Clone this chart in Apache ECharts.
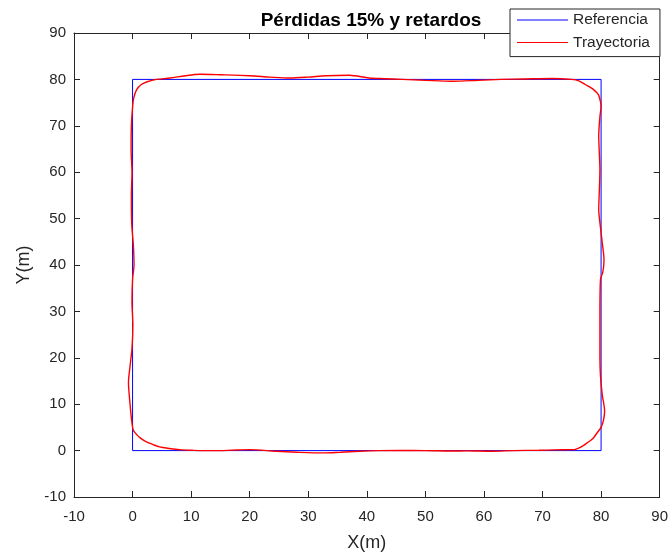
<!DOCTYPE html>
<html>
<head>
<meta charset="utf-8">
<script src="https://cdn.jsdelivr.net/npm/echarts@6/dist/echarts.min.js"></script>
<style>html,body{margin:0;padding:0;background:#fff;}#c{width:671px;height:559px;}</style>
</head>
<body>
<div id="c"></div>
<script>
// Axis ticks
var xTicks = [-10, 0, 10, 20, 30, 40, 50, 60, 70, 80, 90];
var yTicks = [-10, 0, 10, 20, 30, 40, 50, 60, 70, 80, 90];

// Reference square
var refX = [0, 80, 80, 0, 0];
var refY = [0, 0, 80, 80, 0];

// Trajectory
var trajX = [75.5, 72.0, 69.4, 65.0, 61.4, 57.0, 54.6, 50.0, 45.5, 42.0, 38.7, 35.5, 32.5, 28.0, 24.5, 20.0, 17.0, 14.9, 12.0, 10.3, 8.0, 6.35, 4.6, 3.5, 2.2, 1.24, 0.6, 0.1,
  -0.2, -0.5, -0.7, -0.45, -0.1, 0.05, -0.1, 0.0, 0.25, 0.15, -0.15, -0.2, -0.1, -0.25, -0.2, 0.0, 0.2, 0.7, 1.5, 2.5, 4.1,
  6.4, 9.0, 11.5, 15.0, 20.0, 23.5, 26.8, 30.0, 33.0, 37.0, 40.4, 43.0, 46.0, 50.0, 54.6, 59.0, 63.0, 67.0, 71.6, 75.0, 76.2, 77.3, 78.5, 79.3, 79.6, 80.0,
  79.8, 79.6, 79.7, 79.8, 79.7, 79.6, 79.9, 80.2, 80.5, 80.3, 79.9, 79.8, 79.8, 79.8, 79.9, 80.2, 80.6, 80.4, 80.0, 79.3, 78.6, 77.6, 76.6, 75.5];
var trajY = [0.2, 0.15, 0.07, 0.0, -0.15, -0.05, -0.1, 0.0, 0.05, 0.0, -0.15, -0.35, -0.5, -0.35, -0.15, 0.2, 0.1, 0.0, 0.0, 0.06, 0.2, 0.45, 0.8, 1.3, 2.0, 2.8, 3.6, 4.5,
  7.0, 11.0, 14.7, 18.0, 22.0, 27.0, 32.0, 37.0, 40.0, 44.0, 49.0, 55.0, 60.0, 65.0, 70.0, 74.0, 76.0, 77.8, 78.9, 79.5, 80.0,
  80.3, 80.8, 81.1, 81.0, 80.8, 80.5, 80.3, 80.5, 80.8, 80.9, 80.3, 80.15, 80.0, 79.8, 79.6, 79.8, 80.0, 80.1, 80.2, 80.0, 79.7, 78.9, 78.0, 77.1, 76.6, 74.2,
  72.0, 67.8, 64.0, 60.6, 56.0, 52.0, 48.0, 44.8, 41.0, 38.5, 36.9, 30.0, 24.0, 20.0, 16.0, 12.0, 8.5, 6.5, 5.0, 3.8, 2.6, 1.65, 0.8, 0.2];

var refData = refX.map(function (v, i) { return [v, refY[i]]; });
var trajData = trajX.map(function (v, i) { return [v, trajY[i]]; });

var axisColor = '#262626';
var font = '"Liberation Sans", Arial, Helvetica, sans-serif';

function xAxis(pos, show) {
  return {
    type: 'value', position: pos, min: -10, max: 90, interval: 10,
    axisLine: { show: true, onZero: false, lineStyle: { color: axisColor, width: 1 } },
    axisTick: { show: true, inside: true, length: 6, lineStyle: { color: axisColor } },
    axisLabel: { show: show, color: axisColor, fontSize: 15, fontFamily: font, margin: 12,
      formatter: function (v) { return xTicks.indexOf(v) >= 0 ? String(v) : ''; } },
    splitLine: { show: false },
    name: show ? 'X(m)' : '', nameLocation: 'middle', nameGap: 37,
    nameTextStyle: { color: axisColor, fontSize: 18, fontFamily: font }
  };
}
function yAxis(pos, show) {
  return {
    type: 'value', position: pos, min: -10, max: 90, interval: 10,
    axisLine: { show: true, onZero: false, lineStyle: { color: axisColor, width: 1 } },
    axisTick: { show: true, inside: true, length: 6, lineStyle: { color: axisColor } },
    axisLabel: { show: show, color: axisColor, fontSize: 15, fontFamily: font, margin: 8,
      formatter: function (v) { return yTicks.indexOf(v) >= 0 ? String(v) : ''; } },
    splitLine: { show: false },
    name: show ? 'Y(m)' : '', nameLocation: 'middle', nameGap: 41,
    nameTextStyle: { color: axisColor, fontSize: 18, fontFamily: font }
  };
}

var lineIcon = 'path://M0,0H100V2H0Z';

var chart = echarts.init(document.getElementById('c'), null, { renderer: 'canvas' });
chart.setOption({
  animation: false,
  backgroundColor: '#ffffff',
  title: {
    text: 'Pérdidas 15% y retardos', left: 366, top: 6, textAlign: 'center',
    textStyle: { color: '#000', fontSize: 19, fontWeight: 'bold', fontFamily: font }
  },
  legend: {
    orient: 'vertical', left: 510, top: 9,
    backgroundColor: '#ffffff', borderColor: axisColor, borderWidth: 1, borderRadius: 0,
    padding: [2, 10, 5, 7], itemGap: 4.6, itemWidth: 51, itemHeight: 1.6,
    textStyle: { color: axisColor, fontSize: 15.5, fontFamily: font, lineHeight: 18 },
    data: [{ name: 'Referencia', icon: lineIcon }, { name: 'Trayectoria', icon: lineIcon }]
  },
  grid: { left: 74, right: 11, top: 33, bottom: 62, containLabel: false },
  xAxis: [xAxis('bottom', true), xAxis('top', false)],
  yAxis: [yAxis('left', true), yAxis('right', false)],
  series: [
    { name: 'Referencia', type: 'line', data: refData, showSymbol: false, symbol: 'none',
      lineStyle: { color: '#0000ff', width: 1 }, itemStyle: { color: '#0000ff' }, z: 2 },
    { name: 'Trayectoria', type: 'line', data: trajData, showSymbol: false, symbol: 'none', smooth: 0.3,
      lineStyle: { color: '#ff0000', width: 1.4 }, itemStyle: { color: '#ff0000' }, z: 3 }
  ]
});
</script>
</body>
</html>
